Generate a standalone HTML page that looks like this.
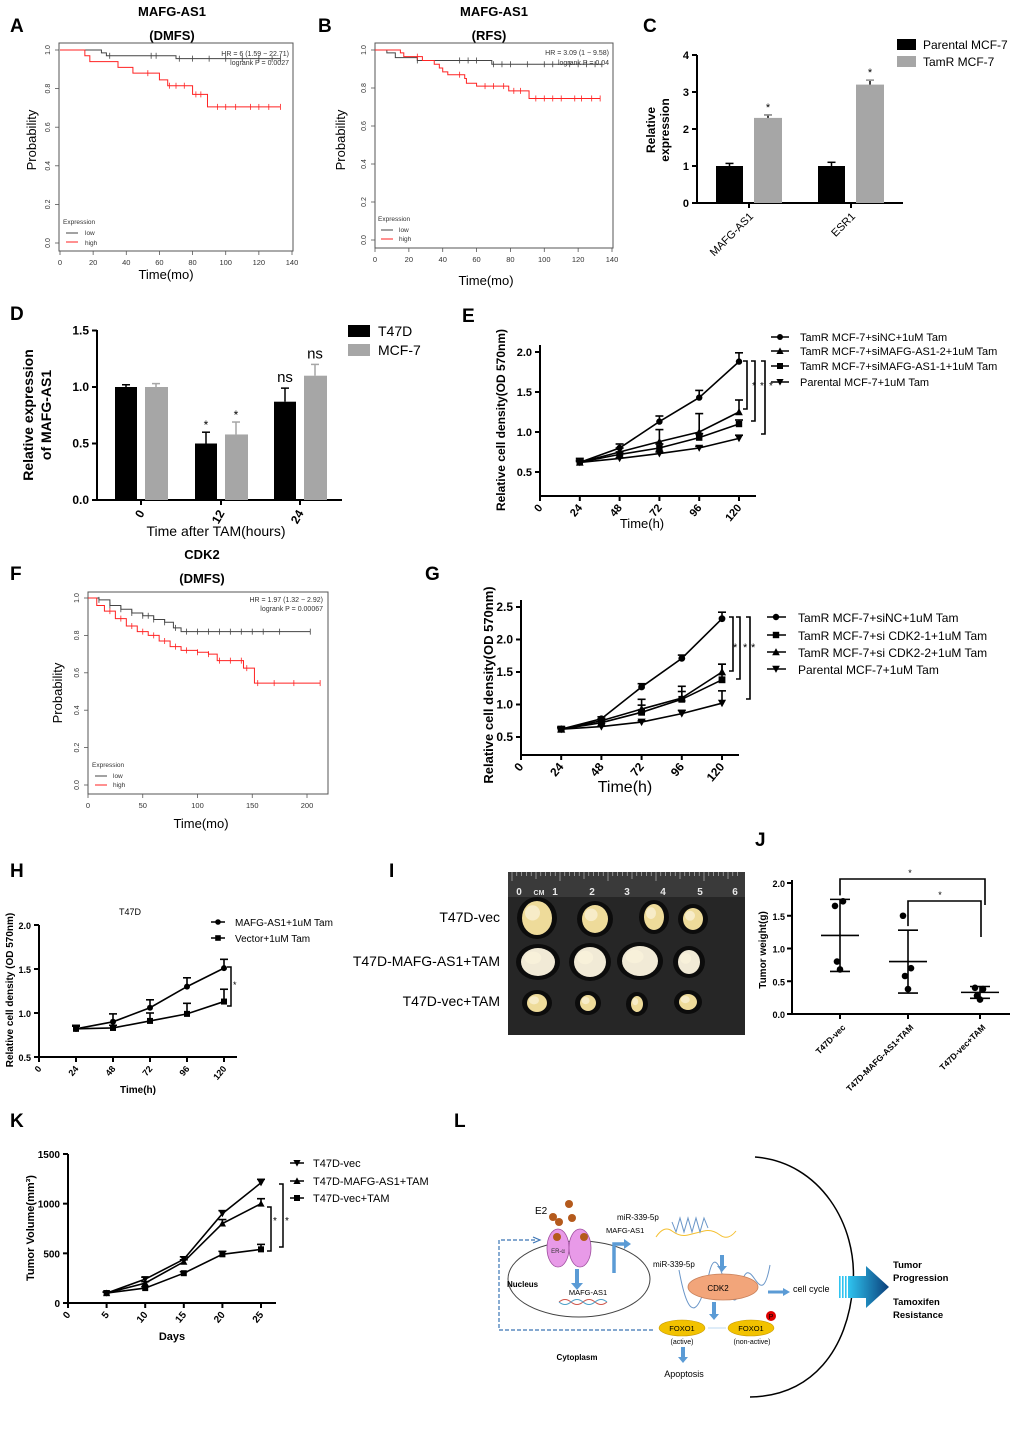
<!DOCTYPE html>
<html><head><meta charset="utf-8"><style>
html,body{margin:0;padding:0;background:#fff;}
svg{display:block;font-family:"Liberation Sans",sans-serif;}
</style></head><body>
<svg id="fig" width="1020" height="1456" viewBox="0 0 1020 1456" xmlns="http://www.w3.org/2000/svg">
<defs>
<linearGradient id="bigArrowGrad" x1="0" x2="1" y1="0" y2="0"><stop offset="0" stop-color="#2fc4f0"/><stop offset="1" stop-color="#0b3f7a"/></linearGradient>
</defs>
</svg>
<script>
// ---------- data ----------
// Panel A (KM, DMFS)
const kmA_lowT=[0,25,28,70,133];
const kmA_lowP=[1,0.985,0.97,0.955,0.955];
const kmA_highT=[0,15,18,35,44,60,65,80,89,133];
const kmA_highP=[1,0.97,0.94,0.91,0.88,0.845,0.815,0.77,0.705,0.705];
const kmA_lowCens=[30,55,58,72,80,90,100,110,120,128,133];
const kmA_highCens=[53,66,70,75,82,85,95,100,106,115,120,126,133];
// Panel B (KM, RFS)
const kmB_lowT=[0,7,12,25,69,134];
const kmB_lowP=[1,0.985,0.96,0.945,0.925,0.925];
const kmB_highT=[0,15,17,28,35,38,40,43,53,54,60,79,91,133];
const kmB_highP=[1,0.985,0.965,0.945,0.925,0.905,0.885,0.87,0.85,0.825,0.81,0.785,0.745,0.745];
const kmB_lowCens=[25,50,55,60,70,75,80,90,100,105,115,120,125,130,134];
const kmB_highCens=[25,50,65,70,76,82,86,95,100,105,110,118,122,128,133];
// Panel C
const cCats=["MAFG-AS1","ESR1"];
const cParental=[1.0,1.0];
const cParentalErr=[0.07,0.1];
const cTamR=[2.3,3.2];
const cTamRErr=[0.08,0.12];
// Panel D
const dCats=["0","12","24"];
const dT47D=[1.0,0.5,0.87];
const dT47DErr=[0.02,0.1,0.12];
const dMCF7=[1.0,0.58,1.1];
const dMCF7Err=[0.03,0.11,0.1];
const dLabels=["","*","ns"];
const dLabels2=["","*","ns"];
// Panel E
const eX=[24,48,72,96,120];
const eSiNC=[0.62,0.8,1.13,1.43,1.88];
const eSiNCErr=[0.05,0.05,0.07,0.09,0.11];
const eSi2=[0.62,0.75,0.88,1.0,1.25];
const eSi2Err=[0.03,0.05,0.15,0.23,0.15];
const eSi1=[0.62,0.72,0.8,0.93,1.1];
const eSi1Err=[0.02,0.03,0.05,0.05,0.05];
const ePar=[0.62,0.67,0.73,0.8,0.92];
const eParErr=[0.01,0.01,0.02,0.02,0.04];
const eTicksY=[0.5,1.0,1.5,2.0];
const eTicksX=[0,24,48,72,96,120];
// Panel F (KM CDK2)
const kmF_lowT=[0,10,20,30,40,50,60,70,78,85,203];
const kmF_lowP=[1,0.99,0.96,0.94,0.92,0.905,0.885,0.87,0.84,0.82,0.82];
const kmF_highT=[0,8,15,25,35,45,55,65,75,85,100,110,118,142,152,212];
const kmF_highP=[1,0.96,0.93,0.89,0.85,0.82,0.8,0.77,0.74,0.72,0.71,0.7,0.665,0.625,0.545,0.545];
const kmF_lowCens=[10,20,30,40,50,55,60,70,80,90,100,110,120,130,140,150,160,175,203];
const kmF_highCens=[20,30,40,50,60,70,80,90,100,110,120,130,140,145,155,170,188,212];
// Panel G
const gX=[24,48,72,96,120];
const gSiNC=[0.62,0.78,1.27,1.71,2.32];
const gSiNCErr=[0.03,0.03,0.05,0.05,0.1];
const gCdk1=[0.62,0.72,0.88,1.08,1.38];
const gCdk1Err=[0.03,0.04,0.2,0.2,0.24];
const gCdk2=[0.62,0.75,0.93,1.1,1.5];
const gCdk2Err=[0.03,0.03,0.06,0.1,0.12];
const gPar=[0.62,0.66,0.73,0.86,1.02];
const gParErr=[0.01,0.01,0.02,0.05,0.19];
const gTicksY=[0.5,1.0,1.5,2.0,2.5];
// Panel H
const hX=[24,48,72,96,120];
const hMafg=[0.82,0.9,1.06,1.3,1.51];
const hMafgErr=[0.04,0.09,0.09,0.1,0.1];
const hVec=[0.82,0.83,0.91,0.99,1.13];
const hVecErr=[0.03,0.03,0.09,0.12,0.14];
const hTicksY=[0.5,1.0,1.5,2.0];
// Panel J
const jCats=["T47D-vec","T47D-MAFG-AS1+TAM","T47D-vec+TAM"];
const jPts=[[1.65,1.72,0.8,0.68],[1.5,0.7,0.58,0.38],[0.4,0.38,0.28,0.22]];
const jMean=[1.2,0.8,0.33];
const jSd=[0.55,0.48,0.09];
const jTicksY=[0,0.5,1.0,1.5,2.0];
// Panel K
const kX=[5,10,15,20,25];
const kVec=[100,240,440,900,1210];
const kVecErr=[10,20,25,30,35];
const kMafg=[100,200,415,800,1000];
const kMafgErr=[10,15,20,40,50];
const kVecTam=[100,150,300,490,540];
const kVecTamErr=[10,15,15,30,50];
const kTicksY=[0,500,1000,1500];
const kTicksX=[0,5,10,15,20,25];

// ---------- helpers ----------
const NS='http://www.w3.org/2000/svg';
const svg=document.getElementById('fig');
function mk(tag,a,name,parent){
  const e=document.createElementNS(NS,tag);
  for(const k in a) e.setAttribute(k,a[k]);
  
  
  (parent||svg).appendChild(e);
  return e;
}
function tx(x,y,s,size,name,opt){
  opt=opt||{};
  const a={x:x,y:y,'font-size':size,fill:opt.fill||'#000','text-anchor':opt.anchor||'start'};
  if(opt.bold) a['font-weight']='bold';
  if(opt.rot!==undefined) a.transform='rotate('+opt.rot+' '+x+' '+y+')';
  if(opt.family) a['font-family']=opt.family;
  const t=mk('text',a,name);
  t.textContent=s;
  return t;
}
function ln(x1,y1,x2,y2,name,w,c){return mk('line',{x1:x1,y1:y1,x2:x2,y2:y2,stroke:c||'#000','stroke-width':w||1},name);}
function marker(type,x,y,r,name,c){
  c=c||'#000';
  if(type==='circle') return mk('circle',{cx:x,cy:y,r:r,fill:c},name);
  if(type==='square') return mk('rect',{x:x-r,y:y-r,width:2*r,height:2*r,fill:c},name);
  if(type==='up') return mk('polygon',{points:(x)+','+(y-r*1.2)+' '+(x-r*1.2)+','+(y+r)+' '+(x+r*1.2)+','+(y+r),fill:c},name);
  if(type==='down') return mk('polygon',{points:(x)+','+(y+r*1.2)+' '+(x-r*1.2)+','+(y-r)+' '+(x+r*1.2)+','+(y-r),fill:c},name);
}
function letter(x,y,s){tx(x,y,s,19,'panel-label-'+s.toLowerCase(),{bold:true});}

// KM plotting
function km(T,P,cens,sx,sy,color,name){
  let d='M'+sx(T[0])+','+sy(P[0]);
  for(let i=1;i<T.length;i++){d+=' H'+sx(T[i])+' V'+sy(P[i]);}
  mk('path',{d:d,fill:'none',stroke:color,'stroke-width':1},name);
  cens.forEach(t=>{
    let p=P[0];for(let i=0;i<T.length;i++){if(T[i]<=t)p=P[i];}
    ln(sx(t),sy(p)-3,sx(t),sy(p)+3,name+'-censor',0.8,color);
  });
}
function kmFrame(b,xticks,xs,sy,prefix){
  mk('rect',{x:b.x0,y:b.y0,width:b.x1-b.x0,height:b.y1-b.y0,fill:'none',stroke:'#555','stroke-width':1},prefix+'-plot-frame');
  [0,0.2,0.4,0.6,0.8,1.0].forEach(v=>{
    ln(b.x0-4,sy(v),b.x0,sy(v),prefix+'-y-tick',0.8,'#555');
    tx(b.x0-9,sy(v),v.toFixed(1),7,prefix+'-y-tick-label',{anchor:'middle',rot:-90,fill:'#333'});
  });
  xticks.forEach(v=>{
    ln(xs(v),b.y1,xs(v),b.y1+4,prefix+'-x-tick',0.8,'#555');
    tx(xs(v),b.y1+14,String(v),7.5,prefix+'-x-tick-label',{anchor:'middle',fill:'#333'});
  });
}
function errbar(x,y1,y2,name,w){ln(x,y1,x,y2,name,w||1.5);ln(x-4,y2,x+4,y2,name+'-cap',w||1.5);}

// ---------- Panel A ----------
(function(){
  const xs=v=>60+v*(232/140), sy=v=>243-v*193;
  letter(10,32,'A');
  tx(172,16,'MAFG-AS1',13,'panel-a-title',{bold:true,anchor:'middle'});
  tx(172,40,'(DMFS)',13,'panel-a-subtitle',{bold:true,anchor:'middle'});
  kmFrame({x0:59,x1:293,y0:43,y1:251},[0,20,40,60,80,100,120,140],xs,sy,'panel-a');
  km(kmA_lowT,kmA_lowP,kmA_lowCens,xs,sy,'#444','panel-a-low-curve');
  km(kmA_highT,kmA_highP,kmA_highCens,xs,sy,'#f22','panel-a-high-curve');
  tx(289,56,'HR = 6 (1.59 − 22.71)',7,'panel-a-hr-text',{anchor:'end',fill:'#333'});
  tx(289,65,'logrank P = 0.0027',7,'panel-a-pvalue-text',{anchor:'end',fill:'#333'});
  tx(63,224,'Expression',6.5,'panel-a-legend-title',{fill:'#333'});
  ln(66,233,78,233,'panel-a-legend-low-line',1,'#444');tx(85,235,'low',6.5,'panel-a-legend-low',{fill:'#333'});
  ln(66,242,78,242,'panel-a-legend-high-line',1,'#f22');tx(85,245,'high',6.5,'panel-a-legend-high',{fill:'#333'});
  tx(36,140,'Probability',13,'panel-a-y-title',{anchor:'middle',rot:-90});
  tx(166,279,'Time(mo)',13,'panel-a-x-title',{anchor:'middle'});
})();
// ---------- Panel B ----------
(function(){
  const xs=v=>375+v*(237/140), sy=v=>240-v*190;
  letter(318,32,'B');
  tx(494,16,'MAFG-AS1',13,'panel-b-title',{bold:true,anchor:'middle'});
  tx(489,40,'(RFS)',13,'panel-b-subtitle',{bold:true,anchor:'middle'});
  kmFrame({x0:375,x1:613,y0:43,y1:248},[0,20,40,60,80,100,120,140],xs,sy,'panel-b');
  km(kmB_lowT,kmB_lowP,kmB_lowCens,xs,sy,'#444','panel-b-low-curve');
  km(kmB_highT,kmB_highP,kmB_highCens,xs,sy,'#f22','panel-b-high-curve');
  tx(609,55,'HR = 3.09 (1 − 9.58)',7,'panel-b-hr-text',{anchor:'end',fill:'#333'});
  tx(609,65,'logrank P = 0.04',7,'panel-b-pvalue-text',{anchor:'end',fill:'#333'});
  tx(378,221,'Expression',6.5,'panel-b-legend-title',{fill:'#333'});
  ln(381,230,393,230,'panel-b-legend-low-line',1,'#444');tx(399,232,'low',6.5,'panel-b-legend-low',{fill:'#333'});
  ln(381,239,393,239,'panel-b-legend-high-line',1,'#f22');tx(399,241,'high',6.5,'panel-b-legend-high',{fill:'#333'});
  tx(345,140,'Probability',13,'panel-b-y-title',{anchor:'middle',rot:-90});
  tx(486,285,'Time(mo)',13,'panel-b-x-title',{anchor:'middle'});
})();
// ---------- Panel C ----------
(function(){
  const y0=203, sy=v=>y0-v*37, x0=697;
  letter(643,32,'C');
  ln(x0,55,x0,y0+1,'panel-c-y-axis',2);ln(x0,y0,903,y0,'panel-c-x-axis',2);
  [0,1,2,3,4].forEach(v=>{ln(x0-5,sy(v),x0,sy(v),'panel-c-y-tick',2);tx(x0-8,sy(v)+4,String(v),11,'panel-c-y-tick-label',{anchor:'end',bold:true});});
  const gx=[716,818];
  cCats.forEach((c,i)=>{
    mk('rect',{x:gx[i],y:sy(cParental[i]),width:27,height:y0-sy(cParental[i]),fill:'#000'},'panel-c-bar-parental-'+c);
    errbar(gx[i]+13.5,sy(cParental[i]),sy(cParental[i]+cParentalErr[i]),'panel-c-err-parental');
    mk('rect',{x:gx[i]+38,y:sy(cTamR[i]),width:28,height:y0-sy(cTamR[i]),fill:'#a6a6a6'},'panel-c-bar-tamr-'+c);
    errbar(gx[i]+52,sy(cTamR[i]),sy(cTamR[i]+cTamRErr[i]),'panel-c-err-tamr');
    ln(gx[i]+48,sy(cTamR[i]+cTamRErr[i]),gx[i]+56,sy(cTamR[i]+cTamRErr[i]),'panel-c-err-tamr-cap',1.5,'#a6a6a6');
    tx(gx[i]+52,sy(cTamR[i]+cTamRErr[i])-4,'*',11,'panel-c-sig-star',{anchor:'middle'});
    ln(gx[i]+33,y0,gx[i]+33,y0+5,'panel-c-x-tick',2);
    tx(gx[i]+38,y0+14,c,11,'panel-c-x-tick-label',{anchor:'end',rot:-45,bold:false});
  });
  tx(655,130,'Relative',12,'panel-c-y-title-1',{anchor:'middle',rot:-90,bold:true});
  tx(669,130,'expression',12,'panel-c-y-title-2',{anchor:'middle',rot:-90,bold:true});
  mk('rect',{x:897,y:39,width:19,height:11,fill:'#000'},'panel-c-legend-parental-swatch');
  tx(923,49,'Parental MCF-7',12,'panel-c-legend-parental');
  mk('rect',{x:897,y:56,width:19,height:11,fill:'#a6a6a6'},'panel-c-legend-tamr-swatch');
  tx(923,66,'TamR MCF-7',12,'panel-c-legend-tamr');
})();
// ---------- Panel D ----------
(function(){
  const y0=500, sy=v=>y0-v*113, x0=97;
  letter(10,320,'D');
  ln(x0,330,x0,y0+1,'panel-d-y-axis',2);ln(x0,y0,342,y0,'panel-d-x-axis',2);
  [0,0.5,1.0,1.5].forEach(v=>{ln(x0-5,sy(v),x0,sy(v),'panel-d-y-tick',2);tx(x0-8,sy(v)+4,v.toFixed(1),12,'panel-d-y-tick-label',{anchor:'end',bold:true});});
  const gx=[115,195,274];
  dCats.forEach((c,i)=>{
    mk('rect',{x:gx[i],y:sy(dT47D[i]),width:22,height:y0-sy(dT47D[i]),fill:'#000'},'panel-d-bar-t47d-'+c);
    errbar(gx[i]+11,sy(dT47D[i]),sy(dT47D[i]+dT47DErr[i]),'panel-d-err-t47d');
    mk('rect',{x:gx[i]+30,y:sy(dMCF7[i]),width:23,height:y0-sy(dMCF7[i]),fill:'#a6a6a6'},'panel-d-bar-mcf7-'+c);
    ln(gx[i]+41,sy(dMCF7[i]),gx[i]+41,sy(dMCF7[i]+dMCF7Err[i]),'panel-d-err-mcf7',1.5,'#a6a6a6');
    ln(gx[i]+37,sy(dMCF7[i]+dMCF7Err[i]),gx[i]+45,sy(dMCF7[i]+dMCF7Err[i]),'panel-d-err-mcf7-cap',1.5,'#a6a6a6');
    if(dLabels[i]) tx(gx[i]+11,sy(dT47D[i]+dT47DErr[i])-(dLabels[i]==='*'?3:6),dLabels[i],dLabels[i]==='*'?12:15,'panel-d-sig-t47d',{anchor:'middle'});
    if(dLabels2[i]) tx(gx[i]+41,sy(dMCF7[i]+dMCF7Err[i])-(dLabels2[i]==='*'?3:6),dLabels2[i],dLabels2[i]==='*'?12:15,'panel-d-sig-mcf7',{anchor:'middle'});
    ln(gx[i]+26,y0,gx[i]+26,y0+5,'panel-d-x-tick',2);
    tx(gx[i]+30,y0+13,c,12,'panel-d-x-tick-label',{anchor:'end',rot:-60,bold:true});
  });
  tx(216,536,'Time after TAM(hours)',14,'panel-d-x-title',{anchor:'middle'});
  tx(33,415,'Relative expression',14,'panel-d-y-title-1',{anchor:'middle',rot:-90,bold:true});
  tx(51,415,'of  MAFG-AS1',14,'panel-d-y-title-2',{anchor:'middle',rot:-90,bold:true});
  mk('rect',{x:348,y:325,width:22,height:12,fill:'#000'},'panel-d-legend-t47d-swatch');
  tx(378,336,'T47D',14,'panel-d-legend-t47d');
  mk('rect',{x:348,y:344,width:22,height:12,fill:'#a6a6a6'},'panel-d-legend-mcf7-swatch');
  tx(378,355,'MCF-7',14,'panel-d-legend-mcf7');
})();
// generic line chart
function lineChart(o){
  const p=o.prefix;
  ln(o.ax,o.yTop,o.ax,o.ayB+1,p+'-y-axis',2);ln(o.ax,o.ayB,o.axEnd,o.ayB,p+'-x-axis',2);
  o.ticksY.forEach(v=>{ln(o.ax-5,o.sy(v),o.ax,o.sy(v),p+'-y-tick',2);tx(o.ax-8,o.sy(v)+4,o.fmtY(v),o.fs,p+'-y-tick-label',{anchor:'end',bold:true});});
  o.ticksX.forEach(v=>{ln(o.sx(v),o.ayB,o.sx(v),o.ayB+5,p+'-x-tick',2);tx(o.sx(v)+3,o.ayB+12,String(v),o.fs,p+'-x-tick-label',{anchor:'end',rot:-50,bold:true});});
  o.series.forEach(s=>{
    let d='';
    o.xs.forEach((x,i)=>{d+=(i?'L':'M')+o.sx(x)+','+o.sy(s.v[i]);});
    mk('path',{d:d,fill:'none',stroke:'#000','stroke-width':1.6},p+'-line-'+s.name);
    o.xs.forEach((x,i)=>{
      errbar(o.sx(x),o.sy(s.v[i]),o.sy(s.v[i]+s.e[i]),p+'-err-'+s.name,1.6);
      marker(s.m,o.sx(x),o.sy(s.v[i]),o.mr,p+'-point-'+s.name);
    });
  });
}
// ---------- Panel E ----------
(function(){
  letter(462,322,'E');
  const sx=v=>540+v*(199/120), sy=v=>472-(v-0.5)*80;
  lineChart({prefix:'panel-e',ax:540,yTop:345,ayB:496,axEnd:756,sx:sx,sy:sy,ticksY:eTicksY,ticksX:eTicksX,fmtY:v=>v.toFixed(1),fs:11,mr:3.2,xs:eX,
    series:[{name:'sinc',v:eSiNC,e:eSiNCErr,m:'circle'},{name:'simafg2',v:eSi2,e:eSi2Err,m:'up'},{name:'simafg1',v:eSi1,e:eSi1Err,m:'square'},{name:'parental',v:ePar,e:eParErr,m:'down'}]});
  const br=[[747,361,409],[755,361,421],[765,361,434]];
  br.forEach((b,i)=>{mk('path',{d:'M'+(b[0]-4)+','+b[1]+'H'+b[0]+'V'+b[2]+'H'+(b[0]-4),fill:'none',stroke:'#000','stroke-width':1.6},'panel-e-sig-bracket');});
  tx(752,389,'*',10,'panel-e-sig-star');tx(760,389,'*',10,'panel-e-sig-star');tx(769,389,'*',10,'panel-e-sig-star');
  const leg=[['circle','TamR MCF-7+siNC+1uM Tam',337],['up','TamR MCF-7+siMAFG-AS1-2+1uM Tam',351],['square','TamR MCF-7+siMAFG-AS1-1+1uM Tam',366],['down','Parental MCF-7+1uM Tam',382]];
  leg.forEach(l=>{ln(771,l[2],789,l[2],'panel-e-legend-line',1.6);marker(l[0],780,l[2],3,'panel-e-legend-marker');tx(800,l[2]+4,l[1],11,'panel-e-legend-label');});
  tx(505,420,'Relative cell density(OD 570nm)',12,'panel-e-y-title',{anchor:'middle',rot:-90,bold:true});
  tx(642,528,'Time(h)',13,'panel-e-x-title',{anchor:'middle'});
})();
// ---------- Panel F ----------
(function(){
  const xs=v=>88+v*(219/200), sy=v=>785-v*187;
  letter(10,580,'F');
  tx(202,559,'CDK2',13,'panel-f-title',{bold:true,anchor:'middle'});
  tx(202,583,'(DMFS)',13,'panel-f-subtitle',{bold:true,anchor:'middle'});
  kmFrame({x0:88,x1:328,y0:592,y1:794},[0,50,100,150,200],xs,sy,'panel-f');
  km(kmF_lowT,kmF_lowP,kmF_lowCens,xs,sy,'#444','panel-f-low-curve');
  km(kmF_highT,kmF_highP,kmF_highCens,xs,sy,'#f22','panel-f-high-curve');
  tx(323,602,'HR = 1.97 (1.32 − 2.92)',7,'panel-f-hr-text',{anchor:'end',fill:'#333'});
  tx(323,611,'logrank P = 0.00067',7,'panel-f-pvalue-text',{anchor:'end',fill:'#333'});
  tx(92,767,'Expression',6.5,'panel-f-legend-title',{fill:'#333'});
  ln(95,776,107,776,'panel-f-legend-low-line',1,'#444');tx(113,778,'low',6.5,'panel-f-legend-low',{fill:'#333'});
  ln(95,785,107,785,'panel-f-legend-high-line',1,'#f22');tx(113,787,'high',6.5,'panel-f-legend-high',{fill:'#333'});
  tx(62,693,'Probability',13,'panel-f-y-title',{anchor:'middle',rot:-90});
  tx(201,828,'Time(mo)',13,'panel-f-x-title',{anchor:'middle'});
})();
// ---------- Panel G ----------
(function(){
  letter(425,580,'G');
  const sx=v=>521+v*(201/120), sy=v=>737-(v-0.5)*65;
  lineChart({prefix:'panel-g',ax:521,yTop:600,ayB:755,axEnd:739,sx:sx,sy:sy,ticksY:gTicksY,ticksX:eTicksX,fmtY:v=>v.toFixed(1),fs:12,mr:3.4,xs:gX,
    series:[{name:'sinc',v:gSiNC,e:gSiNCErr,m:'circle'},{name:'sicdk2-1',v:gCdk1,e:gCdk1Err,m:'square'},{name:'sicdk2-2',v:gCdk2,e:gCdk2Err,m:'up'},{name:'parental',v:gPar,e:gParErr,m:'down'}]});
  const br=[[733,617,671],[740,617,679],[750,617,699]];
  br.forEach(b=>{mk('path',{d:'M'+(b[0]-4)+','+b[1]+'H'+b[0]+'V'+b[2]+'H'+(b[0]-4),fill:'none',stroke:'#000','stroke-width':1.6},'panel-g-sig-bracket');});
  tx(733,651,'*',11,'panel-g-sig-star');tx(743,651,'*',11,'panel-g-sig-star');tx(751,651,'*',11,'panel-g-sig-star');
  const leg=[['circle','TamR MCF-7+siNC+1uM Tam',617],['square','TamR MCF-7+si CDK2-1+1uM Tam',635],['up','TamR MCF-7+si CDK2-2+1uM Tam',652],['down','Parental MCF-7+1uM Tam',669]];
  leg.forEach(l=>{ln(767,l[2],786,l[2],'panel-g-legend-line',1.6);marker(l[0],776,l[2],3.2,'panel-g-legend-marker');tx(798,l[2]+5,l[1],12,'panel-g-legend-label');});
  tx(493,685,'Relative cell density(OD 570nm)',13,'panel-g-y-title',{anchor:'middle',rot:-90,bold:true});
  tx(625,792,'Time(h)',16,'panel-g-x-title',{anchor:'middle'});
})();
// ---------- Panel H ----------
(function(){
  letter(10,877,'H');
  const sx=v=>39+v*(185/120), sy=v=>1057-(v-0.5)*88;
  lineChart({prefix:'panel-h',ax:39,yTop:925,ayB:1057,axEnd:237,sx:sx,sy:sy,ticksY:hTicksY,ticksX:eTicksX,fmtY:v=>v.toFixed(1),fs:9,mr:3,xs:hX,
    series:[{name:'mafg-as1',v:hMafg,e:hMafgErr,m:'circle'},{name:'vector',v:hVec,e:hVecErr,m:'square'}]});
  mk('path',{d:'M227,967H231V1006H227',fill:'none',stroke:'#000','stroke-width':1.5},'panel-h-sig-bracket');
  tx(233,988,'*',9,'panel-h-sig-star');
  tx(130,915,'T47D',9,'panel-h-subtitle',{anchor:'middle'});
  ln(211,922,225,922,'panel-h-legend-line',1.5);marker('circle',218,922,2.8,'panel-h-legend-marker');tx(235,926,'MAFG-AS1+1uM Tam',10,'panel-h-legend-mafg');
  ln(211,938,225,938,'panel-h-legend-line',1.5);marker('square',218,938,2.8,'panel-h-legend-marker');tx(235,942,'Vector+1uM Tam',10,'panel-h-legend-vector');
  tx(13,990,'Relative cell density (OD 570nm)',10,'panel-h-y-title',{anchor:'middle',rot:-90,bold:true});
  tx(138,1093,'Time(h)',10,'panel-h-x-title',{anchor:'middle',bold:true});
})();
// ---------- Panel I ----------
(function(){
  letter(389,877,'I');
  mk('rect',{x:508,y:872,width:237,height:163,fill:'#262626'},'panel-i-photo');
  mk('rect',{x:508,y:872,width:237,height:25,fill:'#3a3a3a'},'panel-i-ruler');
  for(let i=0;i<48;i++){ln(512+i*4.8,872,512+i*4.8,872+(i%10===0?9:i%5===0?7:4),'panel-i-ruler-tick',0.6,'#ccc');}
  ['0','CM','1','2','3','4','5','6'].forEach((s,i)=>{const xp=[519,539,555,592,627,663,700,735][i];tx(xp,895,s,s==='CM'?7:10,'panel-i-ruler-label',{fill:'#e8e8e8',anchor:'middle',bold:true});});
  const tum=[[[537,918,15,17],[595,919,13,14],[654,917,10,13],[693,919,10,11]],
             [[538,962,17,14],[590,962,16,15],[640,961,18,15],[689,962,11,12]],
             [[537,1003,10,9],[588,1003,8,8],[637,1004,6,8],[688,1002,9,8]]];
  tum.forEach((row,r)=>row.forEach(t=>{
    mk('ellipse',{cx:t[0],cy:t[1],rx:t[2]+5,ry:t[3]+4,fill:'#0c0c0c'},'panel-i-tumor-shadow');
    mk('ellipse',{cx:t[0],cy:t[1],rx:t[2],ry:t[3],fill:r===1?'#f1ead6':'#eedb9a'},'panel-i-tumor');
    mk('ellipse',{cx:t[0]-t[2]*0.3,cy:t[1]-t[3]*0.3,rx:t[2]*0.5,ry:t[3]*0.45,fill:'#fbf4dc',opacity:0.7},'panel-i-tumor-highlight');
  }));
  tx(500,922,'T47D-vec',14,'panel-i-row-label-vec',{anchor:'end'});
  tx(500,966,'T47D-MAFG-AS1+TAM',14,'panel-i-row-label-mafg',{anchor:'end'});
  tx(500,1006,'T47D-vec+TAM',14,'panel-i-row-label-vectam',{anchor:'end'});
})();
// ---------- Panel J ----------
(function(){
  letter(755,846,'J');
  const y0=1014, sy=v=>y0-v*65.5, x0=792, gx=[840,908,980];
  ln(x0,880,x0,y0+1,'panel-j-y-axis',2);ln(x0,y0,1010,y0,'panel-j-x-axis',2);
  jTicksY.forEach(v=>{ln(x0-5,sy(v),x0,sy(v),'panel-j-y-tick',2);tx(x0-7,sy(v)+4,v.toFixed(1),9,'panel-j-y-tick-label',{anchor:'end',bold:true});});
  jCats.forEach((c,i)=>{
    ln(gx[i],y0,gx[i],y0+5,'panel-j-x-tick',2);
    tx(gx[i]+6,y0+14,c,8.5,'panel-j-x-tick-label',{anchor:'end',rot:-45,bold:true});
    ln(gx[i]-19,sy(jMean[i]),gx[i]+19,sy(jMean[i]),'panel-j-mean-line',1.6);
    ln(gx[i],sy(jMean[i]-jSd[i]),gx[i],sy(jMean[i]+jSd[i]),'panel-j-sd-line',1.6);
    ln(gx[i]-10,sy(jMean[i]+jSd[i]),gx[i]+10,sy(jMean[i]+jSd[i]),'panel-j-sd-cap',1.6);
    ln(gx[i]-10,sy(jMean[i]-jSd[i]),gx[i]+10,sy(jMean[i]-jSd[i]),'panel-j-sd-cap',1.6);
    const off=[-5,3,-3,0];
    jPts[i].forEach((v,k)=>marker('circle',gx[i]+off[k],sy(v),3.3,'panel-j-point-'+c));
  });
  mk('path',{d:'M'+gx[0]+','+(sy(jMean[0]+jSd[0])-4)+'V879H985V905',fill:'none',stroke:'#000','stroke-width':1.6},'panel-j-sig-bracket-1');
  mk('path',{d:'M'+gx[1]+','+(sy(jMean[1]+jSd[1])-4)+'V901H981V937',fill:'none',stroke:'#000','stroke-width':1.6},'panel-j-sig-bracket-2');
  tx(910,876,'*',9,'panel-j-sig-star-1',{anchor:'middle'});
  tx(940,898,'*',9,'panel-j-sig-star-2',{anchor:'middle'});
  tx(766,950,'Tumor weight(g)',10,'panel-j-y-title',{anchor:'middle',rot:-90,bold:true});
})();
// ---------- Panel K ----------
(function(){
  letter(10,1127,'K');
  const sx=v=>68+v*(193/25), sy=v=>1303-v*(149/1500);
  lineChart({prefix:'panel-k',ax:68,yTop:1154,ayB:1303,axEnd:276,sx:sx,sy:sy,ticksY:kTicksY,ticksX:kTicksX,fmtY:v=>String(v),fs:10,mr:3,xs:kX,
    series:[{name:'vec',v:kVec,e:kVecErr,m:'down'},{name:'mafg-tam',v:kMafg,e:kMafgErr,m:'up'},{name:'vec-tam',v:kVecTam,e:kVecTamErr,m:'square'}]});
  mk('path',{d:'M267,1207H271V1251H267',fill:'none',stroke:'#000','stroke-width':1.5},'panel-k-sig-bracket');
  mk('path',{d:'M279,1184H283V1247H279',fill:'none',stroke:'#000','stroke-width':1.5},'panel-k-sig-bracket');
  tx(273,1224,'*',10,'panel-k-sig-star');tx(285,1224,'*',10,'panel-k-sig-star');
  const leg=[['down','T47D-vec',1163],['up','T47D-MAFG-AS1+TAM',1181],['square','T47D-vec+TAM',1198]];
  leg.forEach(l=>{ln(290,l[2],304,l[2],'panel-k-legend-line',1.5);marker(l[0],297,l[2],3,'panel-k-legend-marker');tx(313,l[2]+4,l[1],11,'panel-k-legend-label');});
  tx(34,1228,'Tumor Volume(mm³)',11,'panel-k-y-title',{anchor:'middle',rot:-90,bold:true});
  tx(172,1340,'Days',11,'panel-k-x-title',{anchor:'middle',bold:true});
})();
// ---------- Panel L (diagram) ----------
(function(){
  letter(454,1127,'L');
  const blue='#5b9bd5';
  mk('path',{d:'M755,1157 C820,1162 858,1225 853,1285 C848,1350 812,1396 750,1397',fill:'none',stroke:'#000','stroke-width':1.5},'cell-membrane-arc');
  mk('ellipse',{cx:579,cy:1279,rx:71,ry:38,fill:'none',stroke:'#444','stroke-width':1},'nucleus');
  mk('path',{d:'M653,1330H499V1240H536',fill:'none',stroke:'#3a74b5','stroke-width':1.2,'stroke-dasharray':'4,2'},'feedback-dashed-arrow');
  mk('path',{d:'M533,1237L540,1240L533,1243',fill:'none',stroke:'#3a74b5','stroke-width':1.2},'feedback-arrowhead');
  mk('ellipse',{cx:558,cy:1248,rx:11,ry:19,fill:'#e89ae8',stroke:'#a050a0','stroke-width':0.8},'er-alpha-left');
  mk('ellipse',{cx:580,cy:1248,rx:11,ry:19,fill:'#e89ae8',stroke:'#a050a0','stroke-width':0.8},'er-alpha-right');
  tx(558,1253,'ER-α',6,'er-alpha-label',{anchor:'middle',fill:'#333'});
  [[569,1204],[553,1217],[559,1222],[572,1218],[557,1237],[584,1237]].forEach(p=>mk('circle',{cx:p[0],cy:p[1],r:4,fill:'#b45a1c'},'e2-molecule'));
  tx(535,1214,'E2',10,'e2-label');
  mk('path',{d:'M577,1269V1283',stroke:blue,'stroke-width':4,fill:'none'},'transcription-arrow');
  mk('polygon',{points:'571,1283 583,1283 577,1290',fill:blue},'transcription-arrowhead');
  tx(507,1287,'Nucleus',8,'nucleus-label',{bold:true});
  tx(588,1295,'MAFG-AS1',7.5,'mafg-as1-gene-label',{anchor:'middle'});
  mk('path',{d:'M559,1302 q6,-5 12,0 t12,0 t12,0 t12,0',fill:'none',stroke:'#d0554a','stroke-width':1},'dna-strand-1');
  mk('path',{d:'M559,1302 q6,5 12,0 t12,0 t12,0 t12,0',fill:'none',stroke:'#4aa0c8','stroke-width':1},'dna-strand-2');
  mk('path',{d:'M614,1273V1244H624',stroke:blue,'stroke-width':3.5,fill:'none'},'export-arrow');
  mk('polygon',{points:'624,1239 631,1244 624,1249',fill:blue},'export-arrowhead');
  tx(617,1220,'miR-339-5p',8,'mir-339-label-1');
  tx(606,1233,'MAFG-AS1',7.5,'mafg-as1-rna-label');
  mk('path',{d:'M656,1237 q8,-12 16,-6 t16,4 t16,-4 t16,4 t16,-4',fill:'none',stroke:'#f5c030','stroke-width':1},'mafg-as1-rna');
  mk('path',{d:'M672,1222 l4,10 l4,-14 l4,14 l4,-14 l4,14 l4,-14 l4,14 l4,-14 l4,10',fill:'none',stroke:'#6a96c8','stroke-width':1},'mir-339-rna');
  tx(653,1267,'miR-339-5p',8,'mir-339-label-2');
  mk('path',{d:'M722,1255V1266',stroke:blue,'stroke-width':4,fill:'none'},'inhibit-arrow');
  mk('polygon',{points:'717,1266 727,1266 722,1272',fill:blue},'inhibit-arrowhead');
  mk('path',{d:'M679,1270 C690,1330 700,1310 710,1270 C720,1235 730,1330 740,1290 C750,1240 760,1320 770,1265',fill:'none',stroke:'#6a96c8','stroke-width':1},'mir-339-wave');
  mk('ellipse',{cx:723,cy:1287,rx:35,ry:13,fill:'#f2a57a',stroke:'#c8805a','stroke-width':0.8},'cdk2-node');
  tx(718,1291,'CDK2',8,'cdk2-label',{anchor:'middle'});
  mk('path',{d:'M768,1292H783',stroke:blue,'stroke-width':3,fill:'none'},'cell-cycle-arrow');
  mk('polygon',{points:'783,1288 790,1292 783,1296',fill:blue},'cell-cycle-arrowhead');
  tx(793,1292,'cell cycle',9,'cell-cycle-label');
  [839,842,845].forEach(x=>mk('rect',{x:x,y:1276,width:1.6,height:22,fill:'#2fc4f0'},'big-arrow-stripe'));
  mk('polygon',{points:'848,1276 866,1276 866,1266 889,1287 866,1308 866,1298 848,1298',fill:'url(#bigArrowGrad)'},'progression-big-arrow');
  tx(893,1268,'Tumor',9.5,'tumor-progression-label-1',{bold:true});
  tx(893,1281,'Progression',9.5,'tumor-progression-label-2',{bold:true});
  tx(893,1305,'Tamoxifen',9.5,'tamoxifen-resistance-label-1',{bold:true});
  tx(893,1318,'Resistance',9.5,'tamoxifen-resistance-label-2',{bold:true});
  mk('path',{d:'M714,1302V1314',stroke:blue,'stroke-width':4,fill:'none'},'foxo1-arrow');
  mk('polygon',{points:'709,1314 719,1314 714,1320',fill:blue},'foxo1-arrowhead');
  mk('ellipse',{cx:682,cy:1328,rx:23,ry:8,fill:'#f2c200',stroke:'#c89a00','stroke-width':0.6},'foxo1-active');
  tx(682,1331,'FOXO1',7.5,'foxo1-active-label',{anchor:'middle'});
  mk('ellipse',{cx:751,cy:1328,rx:23,ry:8,fill:'#f2c200',stroke:'#c89a00','stroke-width':0.6},'foxo1-inactive');
  tx(751,1331,'FOXO1',7.5,'foxo1-inactive-label',{anchor:'middle'});
  ln(708,1328,726,1328,'phosphorylation-arrow',1,'#bcd8f0');
  mk('circle',{cx:771,cy:1316,r:5,fill:'#d00'},'phospho-p-circle');
  tx(771,1319,'P',7,'phospho-p-label',{anchor:'middle'});
  tx(682,1344,'(active)',7,'foxo1-active-state',{anchor:'middle'});
  tx(752,1344,'(non-active)',7,'foxo1-inactive-state',{anchor:'middle'});
  mk('path',{d:'M683,1347V1357',stroke:blue,'stroke-width':4,fill:'none'},'apoptosis-arrow');
  mk('polygon',{points:'678,1357 688,1357 683,1363',fill:blue},'apoptosis-arrowhead');
  tx(684,1377,'Apoptosis',9,'apoptosis-label',{anchor:'middle'});
  tx(577,1360,'Cytoplasm',8,'cytoplasm-label',{anchor:'middle',bold:true});
})();
</script>
</body></html>
